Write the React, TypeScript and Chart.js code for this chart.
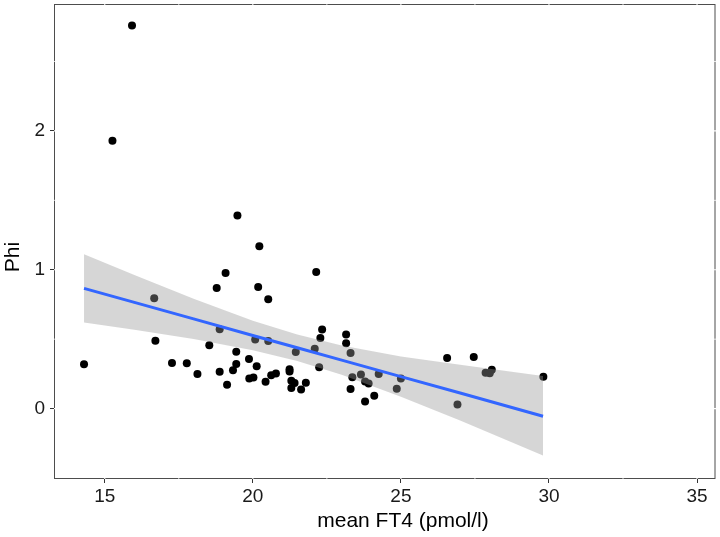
import React, { useEffect, useRef } from "react";
import { Chart, registerables } from "chart.js";

Chart.register(...registerables);

// Observed data: mean FT4 (pmol/l) vs Phi
const ft4 = [
  14.3, 15.26, 15.92, 16.67, 16.71, 17.27, 17.77, 18.13, 18.53, 18.78,
  18.88, 18.88, 19.08, 19.13, 19.33, 19.44, 19.44, 19.48, 19.87, 19.88,
  20.02, 20.08, 20.13, 20.18, 20.22, 20.43, 20.52, 20.52, 20.62, 20.78,
  21.24, 21.24, 21.3, 21.41, 21.3, 21.45, 21.63, 21.79, 22.09, 22.14,
  22.24, 22.28, 22.34, 23.15, 23.15, 23.3, 23.3, 23.36, 23.65, 23.79,
  23.91, 23.79, 24.1, 24.25, 24.86, 25.0, 26.56, 27.46, 26.91, 27.86,
  28.0, 28.07, 29.81,
];
const phi = [
  0.32, 1.93, 2.76, 0.795, 0.488, 0.329, 0.326, 0.25, 0.457, 0.869,
  0.571, 0.266, 0.976, 0.171, 0.276, 0.409, 0.321, 1.39, 0.357, 0.217,
  0.224, 0.498, 0.305, 0.876, 1.17, 0.193, 0.788, 0.486, 0.241, 0.252,
  0.284, 0.267, 0.2, 0.184, 0.148, 0.407, 0.138, 0.186, 0.431, 0.983,
  0.298, 0.509, 0.569, 0.533, 0.471, 0.4, 0.141, 0.226, 0.245, 0.195,
  0.181, 0.052, 0.093, 0.25, 0.143, 0.216, 0.364, 0.371, 0.029, 0.259,
  0.255, 0.279, 0.229,
];

// Linear fit with confidence band
const fitX = [14.3, 16, 18, 20, 21.5, 23, 25, 27, 29.8];
const fitY = [0.866, 0.765, 0.646, 0.527, 0.438, 0.349, 0.23, 0.112, -0.055];
const ciUpper = [1.111, 0.962, 0.791, 0.633, 0.533, 0.455, 0.375, 0.315, 0.234];
const ciLower = [0.621, 0.568, 0.501, 0.421, 0.343, 0.243, 0.085, -0.085, -0.338];

const xTicks = [15, 20, 25, 30, 35];
const yTicks = [0, 1, 2];
const xMinor = [17.5, 22.5, 27.5, 32.5];
const yMinor = [0.5, 1.5, 2.5];

const xTitle = "mean FT4 (pmol/l)";
const yTitle = "Phi";

const FONT = "'Liberation Sans', Arial, Helvetica, sans-serif";

const panelPlugin = {
  id: "panelBorder",
  beforeDatasetsDraw(chart: any) {
    const { ctx, chartArea } = chart;
    const xs = chart.scales.x;
    const ys = chart.scales.y;
    const { left, right, top, bottom } = chartArea;
    ctx.save();
    ctx.strokeStyle = "#4d4d4d";
    ctx.lineWidth = 1;
    ctx.strokeRect(left + 0.5, top + 0.5, right - left - 1.5, bottom - top - 1);
    ctx.strokeStyle = "#ffffff";
    const vline = (v: number, w: number) => {
      const px = xs.getPixelForValue(v);
      ctx.lineWidth = w;
      ctx.beginPath();
      ctx.moveTo(px, top);
      ctx.lineTo(px, bottom);
      ctx.stroke();
    };
    const hline = (v: number, w: number) => {
      const py = ys.getPixelForValue(v);
      ctx.lineWidth = w;
      ctx.beginPath();
      ctx.moveTo(left, py);
      ctx.lineTo(right, py);
      ctx.stroke();
    };
    xMinor.forEach((v) => vline(v, 0.8));
    yMinor.forEach((v) => hline(v, 0.8));
    xTicks.forEach((v) => vline(v, 1.1));
    yTicks.forEach((v) => hline(v, 1.1));
    ctx.restore();
  },
  afterDraw(chart: any) {
    const { ctx } = chart;
    ctx.save();
    ctx.fillStyle = "#000000";
    ctx.font = `21px ${FONT}`;
    ctx.textAlign = "center";
    ctx.textBaseline = "middle";
    ctx.fillText(xTitle, 403, 521);
    ctx.translate(13, 257);
    ctx.rotate(-Math.PI / 2);
    ctx.fillText(yTitle, 0, 0);
    ctx.restore();
  },
};

export default function App() {
  const ref = useRef<HTMLCanvasElement | null>(null);

  useEffect(() => {
    if (!ref.current) return;
    const chart = new Chart(ref.current, {
      type: "scatter",
      data: {
        datasets: [
          {
            label: "points",
            data: ft4.map((x, i) => ({ x, y: phi[i] })),
            backgroundColor: "#000000",
            pointRadius: 4,
            pointBorderWidth: 0,
            borderWidth: 0,
            order: 3,
          } as any,
          {
            label: "upper",
            data: fitX.map((x, i) => ({ x, y: ciUpper[i] })),
            showLine: true,
            pointRadius: 0,
            borderWidth: 0,
            borderColor: "rgba(0,0,0,0)",
            backgroundColor: "rgba(153,153,153,0.4)",
            fill: "+1",
            tension: 0,
            order: 2,
          } as any,
          {
            label: "lower",
            data: fitX.map((x, i) => ({ x, y: ciLower[i] })),
            showLine: true,
            pointRadius: 0,
            borderWidth: 0,
            borderColor: "rgba(0,0,0,0)",
            backgroundColor: "rgba(0,0,0,0)",
            fill: false,
            tension: 0,
            order: 2,
          } as any,
          {
            label: "fit",
            data: fitX.map((x, i) => ({ x, y: fitY[i] })),
            showLine: true,
            pointRadius: 0,
            borderWidth: 3,
            borderColor: "#3366FF",
            fill: false,
            tension: 0,
            order: 1,
          } as any,
        ],
      },
      options: {
        responsive: false,
        animation: false,
        layout: { padding: 0 },
        plugins: {
          legend: { display: false },
          tooltip: { enabled: false },
        },
        scales: {
          x: {
            type: "linear",
            min: 13.286,
            max: 35.64,
            afterBuildTicks: (s: any) => {
              s.ticks = xTicks.map((v) => ({ value: v }));
            },
            afterFit: (s: any) => {
              s.height = 58;
              s.paddingLeft = 0;
              s.paddingRight = 0;
            },
            grid: {
              drawOnChartArea: false,
              drawTicks: true,
              tickLength: 4,
              color: "#333333",
              lineWidth: 1,
            },
            border: { display: false },
            ticks: {
              font: { family: FONT, size: 19 },
              color: "#1a1a1a",
              padding: 2,
              maxRotation: 0,
            },
            title: { display: false },
          },
          y: {
            type: "linear",
            min: -0.507,
            max: 2.914,
            afterBuildTicks: (s: any) => {
              s.ticks = yTicks.map((v) => ({ value: v }));
            },
            afterFit: (s: any) => {
              s.width = 54;
              s.paddingTop = 0;
              s.paddingBottom = 0;
            },
            grid: {
              drawOnChartArea: false,
              drawTicks: true,
              tickLength: 4,
              color: "#333333",
              lineWidth: 1,
            },
            border: { display: false },
            ticks: {
              font: { family: FONT, size: 19 },
              color: "#1a1a1a",
              padding: 5,
            },
            title: { display: false },
          },
        },
      } as any,
      plugins: [panelPlugin],
    });
    return () => chart.destroy();
  }, []);

  return (
    <div
      style={{
        position: "fixed",
        left: 0,
        top: 0,
        width: 720,
        height: 537,
        background: "#ffffff",
      }}
    >
      <canvas ref={ref} width={720} height={537} style={{ display: "block" }} />
    </div>
  );
}
